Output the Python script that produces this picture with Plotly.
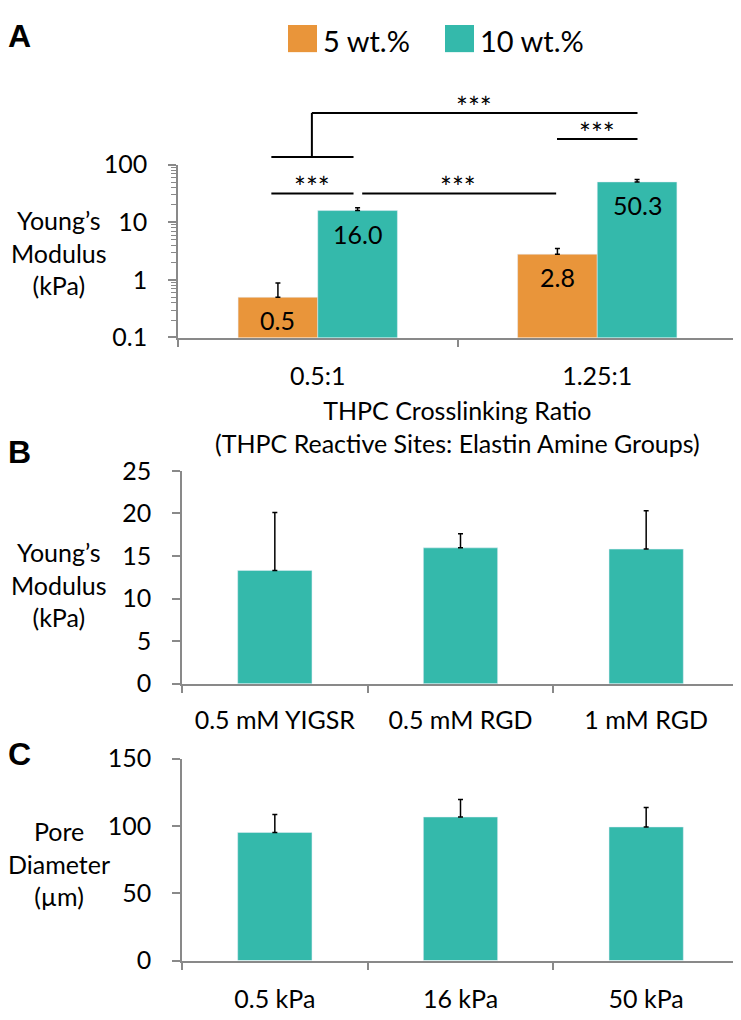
import math
import plotly.graph_objects as go

# ---------------- data ----------------
ratio_cats = ["0.5:1", "1.25:1"]
series_names = ["5 wt.%", "10 wt.%"]
mod_5wt = [0.5, 2.8]
mod_5wt_err = [0.38, 0.7]
mod_10wt = [16.0, 50.3]
mod_10wt_err = [2.0, 5.0]
label_5wt = ["0.5", "2.8"]
label_10wt = ["16.0", "50.3"]

peptide_cats = ["0.5 mM YIGSR", "0.5 mM RGD", "1 mM RGD"]
peptide_mod = [13.3, 15.95, 15.8]
peptide_err = [6.8, 1.65, 4.5]

stiff_cats = ["0.5 kPa", "16 kPa", "50 kPa"]
pore_diam = [95.2, 106.7, 99.3]
pore_err = [13.4, 13.0, 14.4]

a_ticks = [0.1, 1, 10, 100]
a_ticktext = ["0.1", "1", "10", "100"]
b_ticks = [0, 5, 10, 15, 20, 25]
c_ticks = [0, 50, 100, 150]

# ---------------- style ----------------
ORANGE = "#E9953A"
TEAL = "#34B9AB"
AXIS = "#898989"
FONT = "Lato, 'Open Sans', sans-serif"
TICK_SIZE = 25

W, H = 741, 1020
OFF = 8  # page body margin


def sx(t):
    return (t - OFF) / W


def sy(t):
    return 1 - (t - OFF) / H


fig = go.Figure()


def err(arr):
    return dict(type="data", array=arr, arrayminus=[0] * len(arr), symmetric=False,
                color="black", thickness=1.5, width=2.5)


fig.add_trace(go.Bar(x=ratio_cats, y=mod_5wt, name=series_names[0], marker_color=ORANGE,
                     error_y=err(mod_5wt_err), xaxis="x", yaxis="y", showlegend=False))
fig.add_trace(go.Bar(x=ratio_cats, y=mod_10wt, name=series_names[1], marker_color=TEAL,
                     error_y=err(mod_10wt_err), xaxis="x", yaxis="y", showlegend=False))
fig.add_trace(go.Bar(x=peptide_cats, y=peptide_mod, marker_color=TEAL, width=0.4,
                     error_y=err(peptide_err), xaxis="x2", yaxis="y2", showlegend=False))
fig.add_trace(go.Bar(x=stiff_cats, y=pore_diam, marker_color=TEAL, width=0.4,
                     error_y=err(pore_err), xaxis="x3", yaxis="y3", showlegend=False))

axis_common = dict(showline=True, linecolor=AXIS, linewidth=1.5, showgrid=False, zeroline=False,
                   ticks="outside", tickcolor=AXIS, tickwidth=1.5,
                   tickfont=dict(family=FONT, size=TICK_SIZE, color="black"))

xdomA = [sx(178), sx(737)]
xdomBC = [sx(182), sx(739)]

fig.update_layout(
    width=W, height=H,
    margin=dict(l=0, r=0, t=0, b=0),
    plot_bgcolor="white", paper_bgcolor="white",
    font=dict(family=FONT, color="black"),
    barmode="group", bargap=0.43, bargroupgap=0,
    xaxis=dict(domain=xdomA, anchor="y", tickson="boundaries", ticklen=8,
               ticklabelstandoff=16, **axis_common),
    yaxis=dict(domain=[sy(331), sy(153)], anchor="x", type="log", range=[-1, 2],
               tickvals=a_ticks, ticktext=a_ticktext, ticklen=8, ticklabelstandoff=16,
               minor=dict(ticks="outside", ticklen=5, tickcolor=AXIS, tickwidth=1, dtick="D1",
                          showgrid=False),
               **axis_common),
    xaxis2=dict(domain=xdomBC, anchor="y2", tickson="boundaries", ticklen=8,
                ticklabelstandoff=14, **axis_common),
    yaxis2=dict(domain=[sy(687.7), sy(468.3)], anchor="x2", range=[0, 25],
                tickvals=b_ticks, ticklen=8, ticklabelstandoff=16, **axis_common),
    xaxis3=dict(domain=xdomBC, anchor="y3", tickson="boundaries", ticklen=8,
                ticklabelstandoff=16, **axis_common),
    yaxis3=dict(domain=[sy(973), sy(765)], anchor="x3", range=[0, 150],
                tickvals=c_ticks, ticklen=8, ticklabelstandoff=16, **axis_common),
)

ann = []
shapes = []

# bar value labels (inside, near top of bars)
half = (1 - 0.43) / 4
for i, (v, t) in enumerate(zip(mod_5wt, label_5wt)):
    ann.append(dict(x=i - half, y=math.log10(v), xref="x", yref="y", text=t, showarrow=False,
                    yanchor="middle", yshift=-23, font=dict(family=FONT, size=25, color="black")))
for i, (v, t) in enumerate(zip(mod_10wt, label_10wt)):
    ann.append(dict(x=i + half, y=math.log10(v), xref="x", yref="y", text=t, showarrow=False,
                    yanchor="middle", yshift=-23, font=dict(family=FONT, size=25, color="black")))

# y-axis titles (horizontal)
for yr, txt, shift in [("y domain", "Young’s<br>Modulus<br>(kPa)", -1),
                       ("y2 domain", "Young’s<br>Modulus<br>(kPa)", -7),
                       ("y3 domain", "Pore<br>Diameter<br>(µm)", -4)]:
    ann.append(dict(x=sx(59), y=0.5, xref="paper", yref=yr, text=txt, showarrow=False,
                    xanchor="center", yanchor="middle", align="center", yshift=shift,
                    font=dict(family=FONT, size=25, color="black")))

# x title for panel A
ann.append(dict(x=0.5, y=0, xref="x domain", yref="y domain",
                text="THPC Crosslinking Ratio<br>(THPC Reactive Sites: Elastin Amine Groups)",
                showarrow=False, xanchor="center", yanchor="middle", yshift=-89,
                font=dict(family=FONT, size=25, color="black")))

# panel letters
for txt, yy in [("A", 20), ("B", 449), ("C", 760)]:
    ann.append(dict(x=0, y=sy(yy), xref="paper", yref="paper", text="<b>%s</b>" % txt,
                    showarrow=False, xanchor="left", yanchor="middle", xshift=-2,
                    font=dict(family="Liberation Sans, Arial", size=32, color="black")))

# legend (manual swatches)
for name, col, x0 in [(series_names[0], ORANGE, 288), (series_names[1], TEAL, 445)]:
    shapes.append(dict(type="rect", xref="paper", yref="paper", x0=sx(x0), x1=sx(x0 + 29),
                       y0=sy(37), y1=sy(9), fillcolor=col, line=dict(width=0)))
    ann.append(dict(x=sx(x0 + 33), y=sy(25), xref="paper", yref="paper", text=name,
                    showarrow=False, xanchor="left", yanchor="middle",
                    font=dict(family=FONT, size=29, color="black")))


# significance brackets (panel A)
def hline(x0, x1, y):
    shapes.append(dict(type="line", xref="x", yref="y domain", x0=x0, x1=x1, y0=y, y1=y,
                       line=dict(color="black", width=2)))


hline(-0.166, 0.128, 0.834)
hline(0.159, 0.853, 0.834)
hline(0.856, 1.144, 1.149)
hline(-0.166, 0.128, 1.045)
hline(-0.021, 1.144, 1.30)
shapes.append(dict(type="line", xref="x", yref="y domain", x0=-0.021, x1=-0.021, y0=1.045, y1=1.30,
                   line=dict(color="black", width=2)))

for x, y in [(-0.021, 0.834), (0.5, 0.834), (1.0, 1.149), (0.56, 1.30)]:
    ann.append(dict(x=x, y=y, xref="x", yref="y domain", text="***", showarrow=False,
                    xanchor="center", yanchor="bottom", yshift=-13,
                    font=dict(family=FONT, size=28, color="black")))

fig.update_layout(annotations=ann, shapes=shapes)
fig.write_html("out.html")
